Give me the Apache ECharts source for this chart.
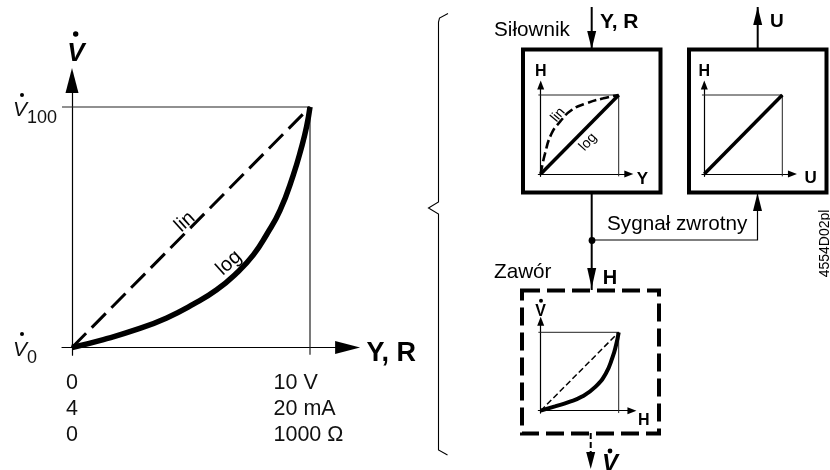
<!DOCTYPE html>
<html><head><meta charset="utf-8">
<style>html,body{margin:0;padding:0;background:#fff}#c{width:830px;height:470px}</style>
<script src="https://cdn.jsdelivr.net/npm/echarts@6/dist/echarts.min.js"></script>
</head><body><div id="c"></div>
<script>
// ---- data ----
const mainLin = [[0,0],[10,100]];
const mainLog = [[0,0],[1.32,3.3],[2.72,7.5],[3.98,12.3],[5.1,18],[6.08,24],[6.92,31],[7.62,38.5],[8.18,47],[8.74,57],[9.29,71.5],[9.65,83.5],[9.86,92],[10,100]];
const mainFrame = [[-0.42,100],[10,100],[10,-3]];
const xTickValues = [0,10];
const xTickRowsLow = ['0','4','0'];
const xTickRowsHigh = ['10 V','20 mA','1000 Ω'];
const yTickValues = [0,100];
const yTickSubs = {0:'0',100:'100'};
const actLin = [[0,0],[5.6,26.2],[14.1,51.5],[24.8,66.2],[39.7,81],[59,89.5],[80.3,95.8],[100,100]];
const actLog = [[0,0],[100,100]];
const posLine = [[0,0],[100,100]];
const valveLin = [[0,0],[100,100]];
const valveLog = [[0,0],[18.3,5.5],[35.7,10.9],[53,18],[70.4,30.7],[83.5,47.5],[92.2,68.5],[96.5,83.2],[100,100]];
const miniFrame = [[-3,100],[100,100],[100,-3]];

const F = '"Liberation Sans", Arial, sans-serif';
const thin = '#222';
function panel(ox, oy, sx, sy, x0, x1, y0, y1){
  return {left: ox + x0*sx, width: (x1-x0)*sx, top: oy - y1*sy, height: (y1-y0)*sy, containLabel:false};
}
const grids = [
  panel(72, 347.5, 23.8, 2.405, -0.42, 11.58, -3.2, 111),
  panel(540.7, 174, .78, .79, -3, 113, -3, 112.7),
  panel(704.3, 174, .78, .79, -3, 113, -3, 112.7),
  panel(540.7, 410.7, .78, .784, -3, 117, -3, 114)
];
function axis(i, type, min, max, size, name, nameStyle, gap, extra){
  return Object.assign({
    type:'value', gridIndex:i, min, max, position: type==='x'?'bottom':'left',
    splitLine:{show:false}, axisTick:{show:false}, axisLabel:{show:false},
    axisLine:{show:true, onZero:true, symbol:['none','triangle'], symbolSize:size, lineStyle:{color:'#000',width:1.2}},
    name, nameLocation:'end', nameGap:gap, nameTextStyle:Object.assign({color:'#000',fontFamily:F,fontWeight:'bold'},nameStyle)
  }, extra||{});
}
function lowered(size,pad){return {rich:{n:{fontFamily:F,fontWeight:'bold',color:'#000',fontSize:size,padding:[pad,0,0,0]}}};}
const xAxes = [
  axis(0,'x',-0.42,11.58,[13,25],'{n|Y, R}',lowered(27,12),19,{
    axisLabel:{show:true, customValues:xTickValues, margin:15, color:'#111', fontFamily:F, fontSize:21.5, lineHeight:26,
      formatter:v=> (v===0?xTickRowsLow.map(t=>'{a|'+t+'}'):xTickRowsHigh.map(t=>'{b|'+t+'}')).join('\n'),
      rich:{a:{fontFamily:F,fontSize:21.5,lineHeight:26,width:14,align:'center',color:'#111'},
            b:{fontFamily:F,fontSize:21.5,lineHeight:26,width:73,align:'left',color:'#111'}}}
  }),
  axis(1,'x',-3,113,[7,9],'{n|Y}',lowered(17,10),8),
  axis(2,'x',-3,113,[7,9],'{n|U}',lowered(17,8),12),
  axis(3,'x',-3,117,[7,9],'{n|H}',lowered(16,20),6)
];
const yAxes = [
  axis(0,'y',-3.2,111,[13,25],'V',{fontSize:26,fontStyle:'italic',padding:[0,0,0,8]},14,{
    axisLabel:{show:true, customValues:yTickValues, margin:49, align:'left', color:'#111',
      formatter:v=>'{v|V}{s|'+yTickSubs[v]+'}',
      rich:{v:{fontFamily:F,fontSize:21,fontStyle:'italic',color:'#111',padding:[6,0,0,0]},
            s:{fontFamily:F,fontSize:18,color:'#111',padding:[22,0,0,0]}}}
  }),
  axis(1,'y',-3,112.7,[7,9],'H',{fontSize:16},5),
  axis(2,'y',-3,112.7,[7,9],'H',{fontSize:16},5),
  axis(3,'y',-3,114,[7,9],'V',{fontSize:16},2)
];
function line(i,data,width,dash,smooth,color){
  return {type:'line',xAxisIndex:i,yAxisIndex:i,data,symbol:'none',showSymbol:false,silent:true,clip:false,
    smooth:smooth?0.5:false,lineStyle:{color:color||'#000',width,type:dash||'solid',cap:'butt'}};
}
const series = [
  line(0,mainFrame,1.2,null,false,thin),
  line(0,mainLin,3,[20,8]),
  line(0,mainLog,5.5,null,true),
  line(1,miniFrame,1,null,false,thin),
  line(1,actLin,2.6,[9,4],true),
  line(1,actLog,3.5),
  line(2,miniFrame,1,null,false,thin),
  line(2,posLine,3.5),
  line(3,miniFrame,1,null,false,thin),
  line(3,valveLin,1.5,[6,3]),
  line(3,valveLog,4,null,true)
];
function txt(text,x,y,size,o){o=o||{};
  return {type:'text',x,y,rotation:o.rot||0,z:50,style:{text,fill:'#000',font:(o.style||'')+' '+(o.weight||'')+' '+size+'px '+F,align:o.align||'center',verticalAlign:'middle'}};
}
function dot(x,y,r){return {type:'circle',shape:{cx:x,cy:y,r},style:{fill:'#000'},z:50};}
function seg(pts,w,dash){return {type:'polyline',shape:{points:pts},style:{stroke:'#000',lineWidth:w,fill:null,lineDash:dash||null},z:40};}
function head(tipx,tipy,dir,len,hw){const s=dir;return {type:'polygon',shape:{points:[[tipx,tipy],[tipx-hw,tipy-s*len],[tipx+hw,tipy-s*len]]},style:{fill:'#000'},z:41};}
const deg=Math.PI/180;
const graphic = [
  {type:'rect',shape:{x:523,y:49.5,width:137.5,height:143},style:{fill:null,stroke:'#000',lineWidth:4},z:30},
  {type:'rect',shape:{x:689,y:49.5,width:137.5,height:143},style:{fill:null,stroke:'#000',lineWidth:4},z:30},
  {type:'rect',shape:{x:522,y:290.5,width:137,height:143},style:{fill:null,stroke:'#000',lineWidth:4,lineDash:[18,7]},z:30},
  seg([[448,13.5],[439.5,18],[438.5,22],[438.5,202],[428.5,208],[438.5,214],[438.5,450],[447.5,455]],1.1),
  seg([[591.7,7],[591.7,49]],2), head(591.7,49,1,18,4.5),
  seg([[757.7,49],[757.7,7]],2), head(757.7,7,-1,18,4.5),
  seg([[591.7,193],[591.7,290]],2), head(591.7,288,1,20,4.5),
  dot(592,240.5,3.4),
  seg([[592,240],[757.5,240],[757.5,193]],1.2), head(757.5,193,-1,18,4.5),
  seg([[590.7,433],[590.7,455]],2,[6,3]), head(590.7,469,1,17,4.5),
  txt('Siłownik',494,30,20.7,{align:'left'}),
  txt('Y, R',600,22,21,{align:'left',weight:'bold'}),
  txt('U',770,22,19,{align:'left',weight:'bold'}),
  txt('Sygnał zwrotny',607,224,20.7,{align:'left'}),
  txt('Zawór',494,272,20.7,{align:'left'}),
  txt('H',610,278,20,{weight:'bold'}),
  txt('V',610,464,24,{weight:'bold',style:'italic'}),
  dot(610,451,2.4),
  txt('4554D02pl',825,243.5,14,{rot:90*deg}),
  txt('lin',185,222,20,{rot:42*deg}),
  txt('log',229,263,20,{rot:42*deg}),
  txt('lin',558,115,14,{rot:50*deg}),
  txt('log',588,142,14,{rot:48*deg}),
  dot(75.7,34,2.7), dot(22,95,2), dot(22,334,2), dot(541,300.7,2)
];
const chart = echarts.init(document.getElementById('c'),null,{renderer:'canvas'});
chart.setOption({animation:false,backgroundColor:'#fff',grid:grids,xAxis:xAxes,yAxis:yAxes,series,graphic});
</script></body></html>
